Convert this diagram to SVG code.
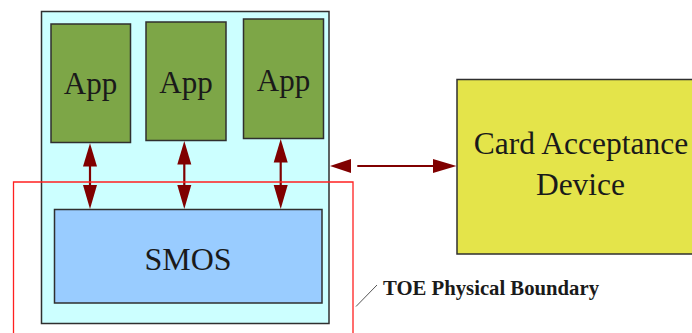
<svg xmlns="http://www.w3.org/2000/svg" width="692" height="333" viewBox="0 0 692 333">
<style>
.box{stroke:#2f2f2f;stroke-width:1.5}
.app{fill:#7da647}
.lbl{font-family:"Liberation Serif","Times New Roman",serif;fill:#1a1a1a;text-anchor:middle}
.conn{stroke:#800000;stroke-width:2.2;fill:none}
.head{fill:#800000}
</style>
<rect width="692" height="333" fill="#ffffff"/>
<g id="chip">
<rect class="box" x="41.5" y="11.5" width="287.5" height="312" fill="#ccffff"/>
</g>
<g id="app1">
<rect class="box app" x="51" y="24" width="79.5" height="118.5"/>
<text class="lbl" x="90.5" y="94" font-size="31">App</text>
</g>
<g id="app2">
<rect class="box app" x="146" y="22" width="80" height="118.5"/>
<text class="lbl" x="186" y="92.5" font-size="31">App</text>
</g>
<g id="app3">
<rect class="box app" x="243.5" y="19" width="80" height="119.5"/>
<text class="lbl" x="283.5" y="90.5" font-size="31">App</text>
</g>
<g id="smos">
<rect class="box" x="54.5" y="209.5" width="267.5" height="93.5" fill="#99ccff"/>
<text class="lbl" x="188" y="269.5" font-size="32">SMOS</text>
</g>
<g id="cad">
<rect class="box" x="457" y="79.5" width="240" height="174.5" fill="#e4e44a"/>
<text class="lbl" x="581" y="154" font-size="31.5">Card Acceptance</text>
<text class="lbl" x="580.5" y="195" font-size="31.5">Device</text>
</g>
<g id="connectors">
<line class="conn" x1="90" y1="162" x2="90" y2="189"/>
<polygon class="head" points="90,143.3 83,166.5 97,166.5"/>
<polygon class="head" points="90,209 83,185 97,185"/>
<line class="conn" x1="184.3" y1="160" x2="184.3" y2="189"/>
<polygon class="head" points="184.3,141 177.3,164.5 191.3,164.5"/>
<polygon class="head" points="184.3,209 177.3,185 191.3,185"/>
<line class="conn" x1="280.7" y1="158" x2="280.7" y2="189"/>
<polygon class="head" points="280.7,139 273.7,162.5 287.7,162.5"/>
<polygon class="head" points="280.7,209 273.7,185 287.7,185"/>
<line class="conn" x1="357.3" y1="166" x2="437" y2="166"/>
<polygon class="head" points="330,166 351,159 351,173"/>
<polygon class="head" points="456.5,166 433,159 433,173"/>
</g>
<g id="boundary">
<polyline points="13.5,340 13.5,182 353,182 353,340" fill="none" stroke="#ff2020" stroke-width="1.3"/>
<line x1="356" y1="306.5" x2="377" y2="285" stroke="#555" stroke-width="1"/>
<text x="383" y="295" font-family="'Liberation Serif','Times New Roman',serif" font-weight="bold" font-size="21" fill="#1a1a1a" textLength="216" lengthAdjust="spacingAndGlyphs">TOE Physical Boundary</text>
</g>
</svg>
